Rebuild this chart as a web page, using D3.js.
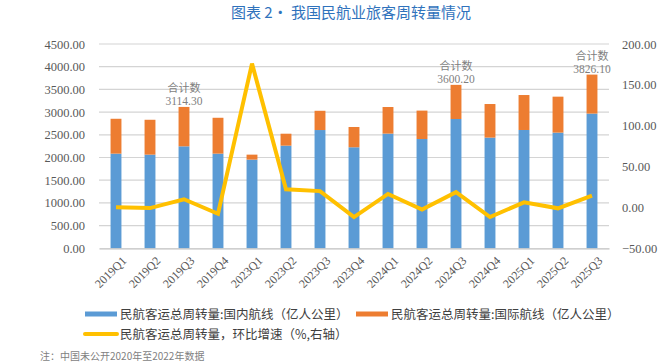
<!DOCTYPE html>
<html><head><meta charset="utf-8">
<script src="https://cdn.jsdelivr.net/npm/d3@7"></script>
<style>body{margin:0;background:#fff;}svg{display:block;}</style>
</head><body>
<svg id="c" width="663" height="363"></svg>
<script>
const categories = ["2019Q1","2019Q2","2019Q3","2019Q4","2023Q1","2023Q2","2023Q3","2023Q4","2024Q1","2024Q2","2024Q3","2024Q4","2025Q1","2025Q2","2025Q3"];
const domestic = [2085,2063,2246,2085,1953,2261,2605,2225,2526,2407,2848,2438,2606,2548,2967];
const international = [768,768,868,790,110,263,424,447,586,626,752,740,770,792,859];
const qoqGrowth = [0.2,-0.8,10.0,-7.7,176,22.3,20.0,-11.8,16.5,-2.5,18.7,-11.7,6.2,-1.1,14.6];
const totalLabels = [{i:2,v:"3114.30"},{i:10,v:"3600.20"},{i:14,v:"3826.10"}];
const leftTicks = [0,500,1000,1500,2000,2500,3000,3500,4000,4500];
const rightTicks = [-50,0,50,100,150,200];
const title = "图表 2• 我国民航业旅客周转量情况";
const legendLabels = ["民航客运总周转量:国内航线（亿人公里）","民航客运总周转量:国际航线（亿人公里）","民航客运总周转量，环比增速（%,右轴）"];
const note = "注：中国未公开2020年至2022年数据";

const svg = d3.select("#c");
const serif = "'Liberation Serif','Times New Roman',serif";
const sans = "'Noto Sans CJK SC','Noto Sans',sans-serif";
const x = d3.scaleBand().domain(categories).range([99,609]).paddingInner(0.68).paddingOuter(0.34);
const yL = d3.scaleLinear().domain([0,4500]).range([248.3,44]);
const yR = d3.scaleLinear().domain([-50,200]).range([248.3,44]);

svg.append("text").attr("x",351).attr("y",18).attr("text-anchor","middle")
  .attr("font-family",sans).attr("font-size",15).attr("fill","#2F72BC").text(title);

// gridlines
svg.append("g").selectAll("line").data(leftTicks.slice(1)).join("line")
  .attr("x1",99).attr("x2",609).attr("y1",d=>yL(d)).attr("y2",d=>yL(d))
  .attr("stroke","#d4d4d4").attr("stroke-width",1.2);

// left axis
const gl = svg.append("g").attr("transform","translate(99,0)")
  .call(d3.axisLeft(yL).tickValues(leftTicks).tickFormat(d3.format(".2f")).tickSize(0).tickPadding(14));
gl.select(".domain").remove();
gl.selectAll("text").attr("font-family",serif).attr("font-size",12.5).attr("fill","#595959");

// right axis
const gr = svg.append("g").attr("transform","translate(609,0)")
  .call(d3.axisRight(yR).tickValues(rightTicks).tickFormat(d3.format(".2f")).tickSize(0).tickPadding(13));
gr.select(".domain").remove();
gr.selectAll("text").attr("font-family",serif).attr("font-size",12.5).attr("fill","#595959");

// bars
const bw = x.bandwidth();
svg.append("g").selectAll("rect").data(categories).join("rect")
  .attr("x",d=>x(d)).attr("width",bw)
  .attr("y",(d,i)=>yL(domestic[i])).attr("height",(d,i)=>yL(0)-yL(domestic[i]))
  .attr("fill","#5B9BD5");
svg.append("g").selectAll("rect").data(categories).join("rect")
  .attr("x",d=>x(d)).attr("width",bw)
  .attr("y",(d,i)=>yL(domestic[i]+international[i])).attr("height",(d,i)=>yL(domestic[i])-yL(domestic[i]+international[i]))
  .attr("fill","#ED7D31");

// x axis
const gx = svg.append("g").attr("transform","translate(0,248.3)")
  .call(d3.axisBottom(x).tickSize(0).tickPadding(6));
gx.select(".domain").attr("stroke","#bfbfbf").attr("stroke-width",1.2);
gx.selectAll("text").attr("font-family",serif).attr("font-size",12).attr("fill","#595959")
  .attr("text-anchor","end").attr("dy","0.35em")
  .attr("transform","translate(4,6) rotate(-45)");

// line
const line = d3.line().x((d,i)=>x(categories[i])+bw/2).y(d=>yR(d));
svg.append("path").datum(qoqGrowth).attr("d",line).attr("fill","none")
  .attr("stroke","#FFC000").attr("stroke-width",4).attr("stroke-linejoin","miter");

// total labels
const tl = svg.append("g").selectAll("g").data(totalLabels).join("g");
tl.append("text").attr("x",d=>x(categories[d.i])+bw/2)
  .attr("y",d=>yL(domestic[d.i]+international[d.i])-15)
  .attr("text-anchor","middle").attr("font-family",sans).attr("font-size",11).attr("fill","#7f7f7f").text("合计数");
tl.append("text").attr("x",d=>x(categories[d.i])+bw/2)
  .attr("y",d=>yL(domestic[d.i]+international[d.i])-1.5)
  .attr("text-anchor","middle").attr("font-family",serif).attr("font-size",11.5).attr("fill","#7f7f7f").text(d=>d.v);

// legend
const leg = [
  {x:85,y:314,c:"#5B9BD5",t:legendLabels[0]},
  {x:356,y:314,c:"#ED7D31",t:legendLabels[1]},
  {x:85,y:334,c:"#FFC000",t:legendLabels[2]}
];
const lg = svg.append("g").selectAll("g").data(leg).join("g");
lg.append("line").attr("x1",d=>d.x).attr("x2",d=>d.x+32).attr("y1",d=>d.y).attr("y2",d=>d.y)
  .attr("stroke",d=>d.c).attr("stroke-width",(d,i)=>i==2?4:5).attr("stroke-linecap",(d,i)=>i==2?"round":"butt");
lg.append("text").attr("x",d=>d.x+35).attr("y",d=>d.y).attr("dy","0.36em")
  .attr("font-family",sans).attr("font-size",12.5).attr("fill","#404040").text(d=>d.t);

svg.append("text").attr("x",40).attr("y",360).attr("font-family",sans).attr("font-size",10).attr("fill","#7f7f7f").text(note);
</script>
</body></html>
